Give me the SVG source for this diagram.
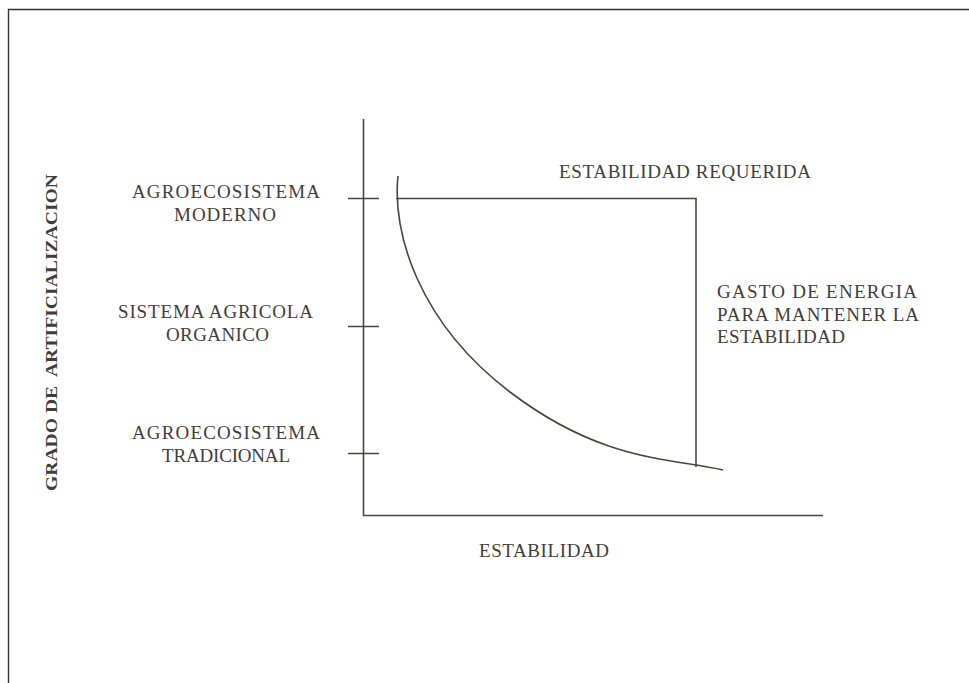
<svg xmlns="http://www.w3.org/2000/svg" width="969" height="683" viewBox="0 0 969 683">
<style>
.t{font-family:"Liberation Serif","Times New Roman",serif;font-size:19px;fill:#423d39}
.b{font-family:"Liberation Serif","Times New Roman",serif;font-size:16px;font-weight:bold;fill:#423d39}
.ln{stroke:#4a4541;stroke-width:1.6;fill:none}
</style>
<rect width="969" height="683" fill="#ffffff"/>
<path d="M8.5,683 V9.5 H969" stroke="#333333" stroke-width="1.4" fill="none"/>
<g id="axes">
<path class="ln" d="M363.5,119 V515.5 H823"/>
</g>
<g id="ticks">
<path class="ln" d="M348,198.5 H379 M348,326.5 H379 M348,453.5 H379"/>
</g>
<g id="connectors">
<path class="ln" d="M396,198.5 H696 V467"/>
<path class="ln" d="M398,176 C392,232 418,322 510,392 S 670,458 723,470"/>
</g>
<g id="y-label">
<text class="b" transform="translate(57,491) rotate(-90)" textLength="317" lengthAdjust="spacingAndGlyphs" xml:space="preserve">GRADO DE  ARTIFICIALIZACION</text>
</g>
<g id="label-moderno">
<text class="t" x="132" y="198" textLength="188" lengthAdjust="spacing">AGROECOSISTEMA</text>
<text class="t" x="174" y="221" textLength="102" lengthAdjust="spacing">MODERNO</text>
</g>
<g id="label-organico">
<text class="t" x="118" y="318" textLength="195" lengthAdjust="spacing">SISTEMA AGRICOLA</text>
<text class="t" x="166" y="341" textLength="103" lengthAdjust="spacing">ORGANICO</text>
</g>
<g id="label-tradicional">
<text class="t" x="132" y="439" textLength="188" lengthAdjust="spacing">AGROECOSISTEMA</text>
<text class="t" x="162" y="462" textLength="128" lengthAdjust="spacing">TRADICIONAL</text>
</g>
<g id="label-requerida">
<text class="t" x="559" y="178" textLength="252" lengthAdjust="spacing">ESTABILIDAD REQUERIDA</text>
</g>
<g id="label-gasto">
<text class="t" x="717" y="298" textLength="200" lengthAdjust="spacing">GASTO DE ENERGIA</text>
<text class="t" x="717" y="321" textLength="202" lengthAdjust="spacing">PARA MANTENER LA</text>
<text class="t" x="717" y="343" textLength="128" lengthAdjust="spacing">ESTABILIDAD</text>
</g>
<g id="label-x">
<text class="t" x="479" y="557" textLength="130" lengthAdjust="spacing">ESTABILIDAD</text>
</g>
</svg>
